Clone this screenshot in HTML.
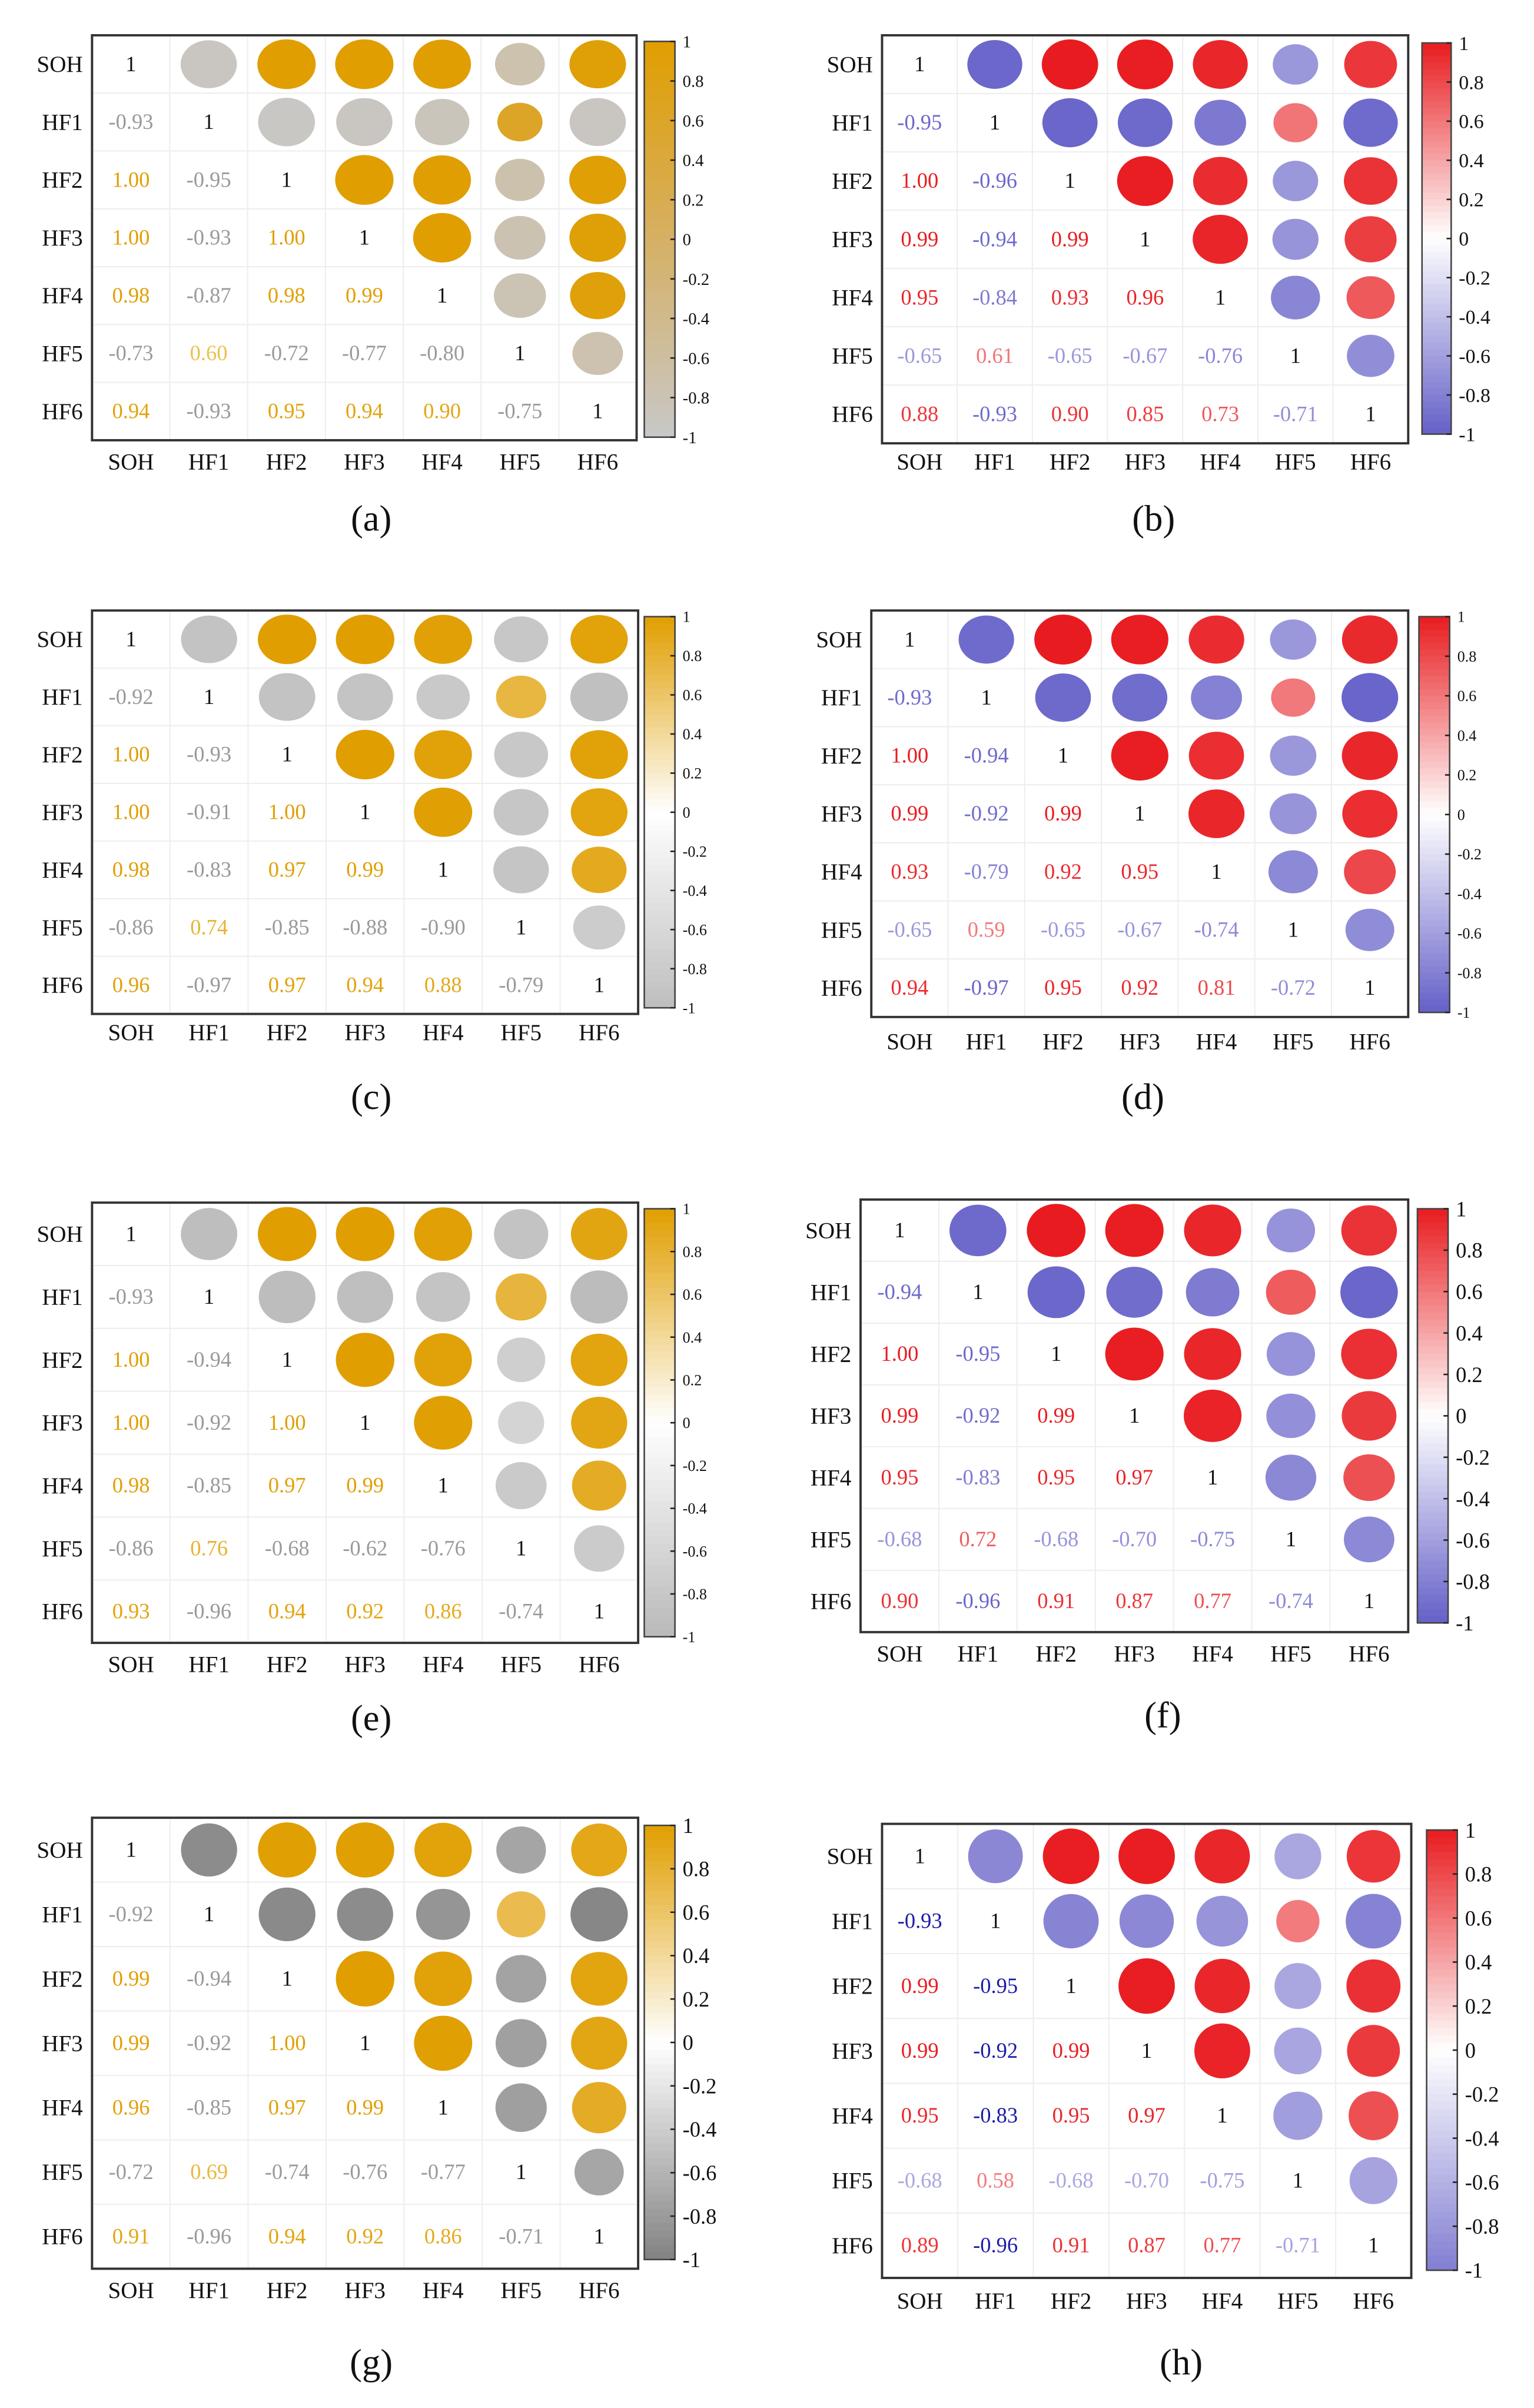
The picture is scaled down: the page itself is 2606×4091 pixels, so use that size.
<!DOCTYPE html>
<html><head><meta charset="utf-8"><style>
html,body{margin:0;padding:0;background:#fff;}
svg{display:block;}
text{font-family:"Liberation Serif",serif;}
</style></head>
<body>
<svg id="fig" xmlns="http://www.w3.org/2000/svg" width="2606" height="4091" viewBox="0 0 1000 1569.8" preserveAspectRatio="none"></svg>
<script>
const labels = ["SOH","HF1","HF2","HF3","HF4","HF5","HF6"];
const valsA = [[-0.93],[1.00,-0.95],[1.00,-0.93,1.00],[0.98,-0.87,0.98,0.99],[-0.73,0.60,-0.72,-0.77,-0.80],[0.94,-0.93,0.95,0.94,0.90,-0.75]];
const valsB = [[-0.95],[1.00,-0.96],[0.99,-0.94,0.99],[0.95,-0.84,0.93,0.96],[-0.65,0.61,-0.65,-0.67,-0.76],[0.88,-0.93,0.90,0.85,0.73,-0.71]];
const valsC = [[-0.92],[1.00,-0.93],[1.00,-0.91,1.00],[0.98,-0.83,0.97,0.99],[-0.86,0.74,-0.85,-0.88,-0.90],[0.96,-0.97,0.97,0.94,0.88,-0.79]];
const valsD = [[-0.93],[1.00,-0.94],[0.99,-0.92,0.99],[0.93,-0.79,0.92,0.95],[-0.65,0.59,-0.65,-0.67,-0.74],[0.94,-0.97,0.95,0.92,0.81,-0.72]];
const valsE = [[-0.93],[1.00,-0.94],[1.00,-0.92,1.00],[0.98,-0.85,0.97,0.99],[-0.86,0.76,-0.68,-0.62,-0.76],[0.93,-0.96,0.94,0.92,0.86,-0.74]];
const valsF = [[-0.94],[1.00,-0.95],[0.99,-0.92,0.99],[0.95,-0.83,0.95,0.97],[-0.68,0.72,-0.68,-0.70,-0.75],[0.90,-0.96,0.91,0.87,0.77,-0.74]];
const valsG = [[-0.92],[0.99,-0.94],[0.99,-0.92,1.00],[0.96,-0.85,0.97,0.99],[-0.72,0.69,-0.74,-0.76,-0.77],[0.91,-0.96,0.94,0.92,0.86,-0.71]];
const valsH = [[-0.93],[0.99,-0.95],[0.99,-0.92,0.99],[0.95,-0.83,0.95,0.97],[-0.68,0.58,-0.68,-0.70,-0.75],[0.89,-0.96,0.91,0.87,0.77,-0.71]];
const cbTicks = [1,0.8,0.6,0.4,0.2,0,-0.2,-0.4,-0.6,-0.8,-1];
const cbTickText = ["1","0.8","0.6","0.4","0.2","0","-0.2","-0.4","-0.6","-0.8","-1"];

const gold=[224,158,0];
const panels = [
 {id:"a",vals:valsA,box:[60,23,415,287],cb:[420,27,440,285],xl:301,cap:[242,338],neg:[200,200,200],mid:[214,176,100],tneg:"#999",fs:11},
 {id:"b",vals:valsB,box:[575,23,918,289],cb:[927,28,946,283],xl:301,cap:[752,338],neg:[100,96,200],mid:[255,255,255],pos:[232,28,32],fs:13},
 {id:"c",vals:valsC,box:[60,398,416,661],cb:[420,402,440,657],xl:673,cap:[242,715],neg:[190,190,190],mid:[255,255,255],tneg:"#999",fs:10},
 {id:"d",vals:valsD,box:[568,398,918,663],cb:[925,402,945,660],xl:679,cap:[745,715],neg:[100,96,200],mid:[255,255,255],pos:[232,28,32],fs:10},
 {id:"e",vals:valsE,box:[60,784,416,1071],cb:[420,788,440,1067],xl:1085,cap:[242,1120],neg:[185,185,185],mid:[255,255,255],tneg:"#999",fs:10},
 {id:"f",vals:valsF,box:[561,782,918,1064],cb:[924,788,944,1058],xl:1078,cap:[758,1118],neg:[100,96,200],mid:[255,255,255],pos:[232,28,32],fs:14},
 {id:"g",vals:valsG,box:[60,1185,416,1479],cb:[420,1190,440,1473],xl:1493,cap:[242,1540],neg:[130,130,130],mid:[255,255,255],tneg:"#999",fs:14},
 {id:"h",vals:valsH,box:[575,1189,920,1485],cb:[930,1193,950,1480],xl:1500,cap:[770,1540],neg:[130,126,210],mid:[255,255,255],pos:[232,28,32],tneg:"#1c1ca8",fs:14}
];
const NS="http://www.w3.org/2000/svg";
const svg=document.getElementById('fig');
function mk(tag,attrs,parent){const e=document.createElementNS(NS,tag);for(const k in attrs)e.setAttribute(k,attrs[k]);(parent||svg).appendChild(e);return e;}
function mix(a,b,t){return 'rgb('+a.map((v,i)=>Math.round(v+(b[i]-v)*t)).join(',')+')';}
function cmap(p,v){const pos=p.pos||gold;return v>=0?mix(p.mid,pos,v):mix(p.mid,p.neg,-v);}
function val(p,i,j){if(i===j)return 1;return i>j?p.vals[i-1][j]:p.vals[j-1][i];}

panels.forEach(p=>{
  const g=mk('g',{});
  
  
  const [x0,y0,x1,y1]=p.box, cw=(x1-x0)/7, ch=(y1-y0)/7;
  const xs=i=>x0+cw*(i+0.5), ys=i=>y0+ch*(i+0.5);
  const bg=mk('rect',{x:x0,y:y0,width:x1-x0,height:y1-y0,fill:'#fff',stroke:'none'},g);
  
  
  for(let k=1;k<7;k++){
    mk('line',{x1:x0+cw*k,y1:y0,x2:x0+cw*k,y2:y1,stroke:'#eee','stroke-width':0.8},g);
    mk('line',{x1:x0,y1:y0+ch*k,x2:x1,y2:y0+ch*k,stroke:'#eee','stroke-width':0.8},g);
  }
  for(let i=0;i<7;i++)for(let j=0;j<7;j++){
    const v=val(p,i,j);
    if(i===j){
      const t=mk('text',{x:xs(j),y:ys(i)+4.5,'text-anchor':'middle','font-size':14,fill:'#111'},g);
      t.textContent='1';
      
      
    } else if(j>i){
      const s=Math.sqrt(Math.abs(v));
      const c=mk('ellipse',{cx:xs(j),cy:ys(i),rx:cw*0.375*s,ry:ch*0.43*s,fill:cmap(p,v)},g);
      
      
    } else {
      let col=cmap(p,v);
      if(v<0&&p.tneg&&Math.abs(v)>0.8)col=p.tneg; else if(v<0&&p.tneg==='#999')col='#9a9a9a';
      if(v>0&&!p.pos)col=mix([240,200,100],gold,Math.min(1,(v-0.5)*2));
      const t=mk('text',{x:xs(j),y:ys(i)+4.5,'text-anchor':'middle','font-size':14,fill:col},g);
      t.textContent=v.toFixed(2);
      
      
    }
  }
  mk('rect',{x:x0,y:y0,width:x1-x0,height:y1-y0,fill:'none',stroke:'#333','stroke-width':1.5},g);
  labels.forEach((l,i)=>{
    const t=mk('text',{x:x0-6,y:ys(i)+5,'text-anchor':'end','font-size':15,fill:'#111'},g);
    t.textContent=l;
    
    
    const u=mk('text',{x:xs(i),y:p.xl+5,'text-anchor':'middle','font-size':15,fill:'#111'},g);
    u.textContent=l;
    
    
  });
  // colorbar
  const [cx0,cy0,cx1,cy1]=p.cb, n=60, h=(cy1-cy0)/n;
  const cb=mk('g',{},g);
  
  
  for(let k=0;k<n;k++){
    const v=1-2*(k+0.5)/n;
    mk('rect',{x:cx0,y:cy0+k*h,width:cx1-cx0,height:h+0.3,fill:cmap(p,v)},cb);
  }
  mk('rect',{x:cx0,y:cy0,width:cx1-cx0,height:cy1-cy0,fill:'none',stroke:'#444','stroke-width':1},cb);
  const cys=v=>cy0+(1-v)/2*(cy1-cy0);
  cbTicks.forEach((v,k)=>{
    mk('line',{x1:cx1-3,y1:cys(v),x2:cx1,y2:cys(v),stroke:'#222','stroke-width':1},cb);
    const t=mk('text',{x:cx1+5,y:cys(v)+p.fs*0.35,'font-size':p.fs,fill:'#111'},cb);
    t.textContent=cbTickText[k];
    
    
  });
  const cap=mk('text',{x:p.cap[0],y:p.cap[1]+8,'text-anchor':'middle','font-size':24,fill:'#111'},g);
  cap.textContent='('+p.id+')';
  
  
});
</script>
</body></html>
